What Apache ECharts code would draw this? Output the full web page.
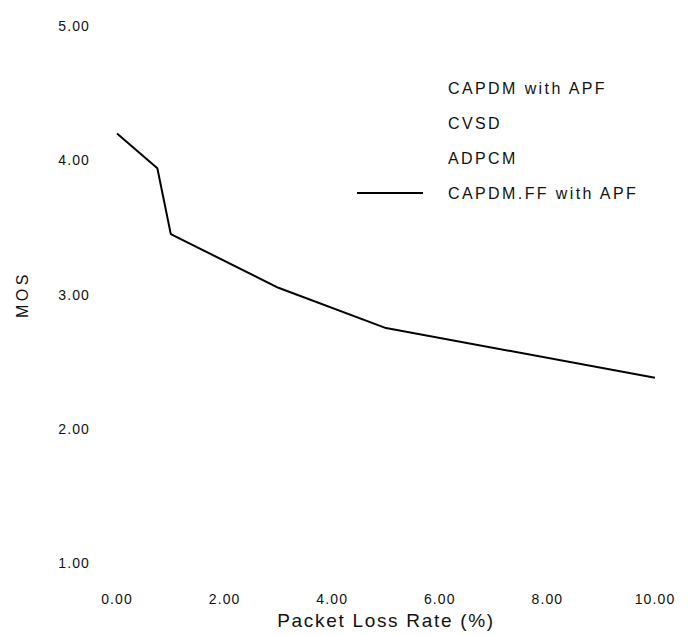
<!DOCTYPE html>
<html>
<head>
<meta charset="utf-8">
<script src="https://cdn.jsdelivr.net/npm/echarts@6/dist/echarts.min.js"></script>
<style>
  html, body { margin: 0; padding: 0; background: #fff; }
  #chart { width: 688px; height: 635px; }
  #chart text[style*="Helvetica"] { letter-spacing: 2.4px; }
  #chart text[style*="Nimbus"] { letter-spacing: 3.5px; }
  #chart text[style*="Tahoma"] { letter-spacing: 1.1px; }
  #chart text[style*="Verdana"] { letter-spacing: 1.7px; }
</style>
</head>
<body>
<div id="chart"></div>
<script>
// Data
const lossRates = [0, 0.75, 1, 3, 5, 10];
const mosCapdmFF = [4.20, 3.94, 3.45, 3.05, 2.75, 2.38];
const legendNames = ['CAPDM with APF', 'CVSD', 'ADPCM', 'CAPDM.FF with APF'];
const xAxisName = 'Packet Loss Rate (%)';
const yAxisName = 'MOS';

const chart = echarts.init(document.getElementById('chart'), null, { renderer: 'svg' });

const hiddenSeries = legendNames.slice(0, 3).map(n => ({
  name: n, type: 'line', data: [], symbol: 'none',
  lineStyle: { opacity: 0 }, itemStyle: { opacity: 0 }
}));

chart.setOption({
  animation: false,
  backgroundColor: '#ffffff',
  grid: { left: 117, right: 33, top: 26, bottom: 71, containLabel: false },
  legend: {
    orient: 'vertical',
    left: 351, top: 75,
    itemWidth: 66, itemHeight: 14, itemGap: 19,
    data: legendNames,
    itemStyle: { opacity: 0 },
    textStyle: { fontFamily: 'Liberation Sans, Helvetica', fontSize: 16, color: '#111', padding: [0, 0, 0, 20] },
    selectedMode: false
  },
  xAxis: {
    type: 'value', min: 0, max: 10, interval: 2,
    name: xAxisName, nameLocation: 'middle', nameGap: 48,
    nameTextStyle: { fontFamily: 'Liberation Sans, Verdana', fontSize: 19, color: '#111' },
    axisLine: { show: false }, axisTick: { show: false }, splitLine: { show: false },
    axisLabel: { formatter: v => v.toFixed(2), margin: 29, fontFamily: 'Liberation Sans, Tahoma', fontSize: 14, color: '#111' }
  },
  yAxis: {
    type: 'value', min: 1, max: 5, interval: 1,
    name: yAxisName, nameLocation: 'middle', nameGap: 87, nameRotate: 90,
    nameTextStyle: { fontFamily: 'Liberation Sans, Nimbus', fontSize: 16, color: '#111' },
    axisLine: { show: false }, axisTick: { show: false }, splitLine: { show: false },
    axisLabel: { formatter: v => v.toFixed(2), margin: 27, fontFamily: 'Liberation Sans, Tahoma', fontSize: 14, color: '#111' }
  },
  series: hiddenSeries.concat([{
    name: legendNames[3], type: 'line', symbol: 'none',
    data: lossRates.map((x, i) => [x, mosCapdmFF[i]]),
    lineStyle: { color: '#000', width: 2 }, itemStyle: { color: '#000' }
  }])
});
</script>
</body>
</html>
